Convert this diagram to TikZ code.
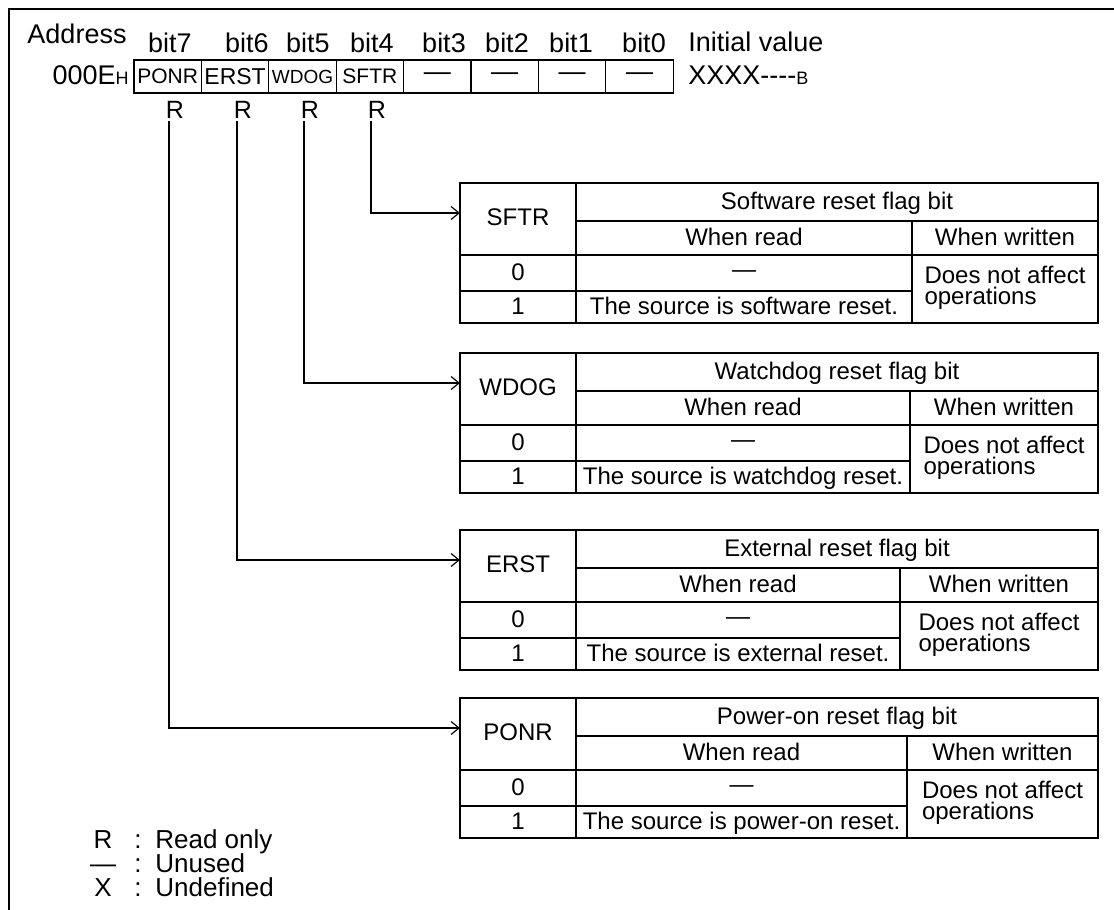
\documentclass[tikz,border=0pt]{standalone}
\usepackage{fontspec}
\setmainfont{Liberation Sans}
\usetikzlibrary{arrows.meta}

\begin{document}
\begin{tikzpicture}[x=0.5pt,y=-0.5pt,lbl/.style={inner sep=1pt,text height=0.7em,text depth=0.2em,font=\fontsize{12}{12}\selectfont},hdr/.style={lbl,font=\fontsize{13.5}{13.5}\selectfont},leg/.style={lbl,font=\fontsize{13}{13}\selectfont},rlbl/.style={inner sep=1pt,font=\fontsize{12.5}{12.5}\selectfont},note/.style={inner sep=1pt,align=left,font=\fontsize{12}{10.5}\selectfont},bitcell/.style={draw,line width=0.6pt,minimum width=33.7pt,minimum height=16.5pt,inner sep=0pt},tbl/.style={line width=0.65pt},arr/.style={-{Straight Barb[length=4pt,width=6.5pt]},line width=0.6pt},frame/.style={line width=1pt}]
\useasboundingbox (0,0) rectangle (1114,910);
\draw[frame] (1114,9) -- (9,9) -- (9,910);
\node[hdr] (addr) at (77,38) {Address};
\node[hdr,anchor=east] (addrval) at (131,79) {000E{\fontsize{9}{9}\selectfont H}};
\node[hdr,anchor=west] (init) at (686,46) {Initial value};
\node[hdr,anchor=west] (initval) at (686,79) {XXXX-{}-{}-{}-{\fontsize{9}{9}\selectfont B}};
\foreach \i/\x in {7/170,6/247,5/308,4/372,3/444,2/507,1/571,0/644}
  \node[hdr] (b\i) at (\x,47) {bit\i};
\foreach \i/\txt/\fs in {0/PONR/10.5,1/ERST/11.5,2/WDOG/9.5,3/SFTR/10.5,4/\textemdash/13.5,5/\textemdash/13.5,6/\textemdash/13.5,7/\textemdash/13.5}
  \node[bitcell,font=\fontsize{\fs}{\fs}\selectfont] (c\i) at (167.7+67.4*\i,76.5) {\txt};
\foreach \i/\x in {7/175,6/243,5/310,4/377}
  \node[rlbl] (r\i) at (\x,110) {R};
\foreach \id/\t/\w/\nm/\ttl/\src in {sftr/183/912/SFTR/Software reset flag bit/The source is software reset.,%
wdog/353/910/WDOG/Watchdog reset flag bit/The source is watchdog reset.,%
erst/530/900/ERST/External reset flag bit/The source is external reset.,%
ponr/698/907/PONR/Power-on reset flag bit/The source is power-on reset.}{
  \draw[tbl] (460,\t) rectangle (1098,\t+140);
  \draw[tbl] (576,\t) -- (576,\t+140) (576,\t+38) -- (1098,\t+38) (460,\t+72) -- (1098,\t+72) (460,\t+108) -- (\w,\t+108) (\w,\t+38) -- (\w,\t+140);
  \node[lbl] (\id-name) at (518,\t+37) {\nm};
  \node[lbl] (\id-title) at (837,\t+21) {\ttl};
  \node[lbl] (\id-rd) at ({(576+\w)/2},\t+57) {When read};
  \node[lbl] (\id-wr) at ({(\w+1098)/2},\t+57) {When written};
  \node[lbl] (\id-0) at (518,\t+92) {0};
  \node[lbl] (\id-u) at ({(576+\w)/2},\t+89) {\textemdash};
  \node[lbl] (\id-1) at (518,\t+126) {1};
  \node[lbl] (\id-src) at ({(576+\w)/2},\t+126) {\src};
  \node[note] (\id-na) at ({(\w+1098)/2},\t+105) {Does not affect\\operations};
  \coordinate (\id-in) at (460,\t+30);
}
\draw[arr] ([xshift=-3pt]r4.south) |- (sftr-in);
\draw[arr] ([xshift=-3pt]r5.south) |- (wdog-in);
\draw[arr] ([xshift=-3pt]r6.south) |- (erst-in);
\draw[arr] ([xshift=-3pt]r7.south) |- (ponr-in);
\node[leg] (kR) at (103,843) {R};
\node[leg] (kRc) at (138,843) {:};
\node[leg,anchor=west] (kRt) at (153,843) {Read only};
\node[leg] (kU) at (103,867) {\textemdash};
\node[leg] (kUc) at (138,867) {:};
\node[leg,anchor=west] (kUt) at (153,867) {Unused};
\node[leg] (kX) at (103,891) {X};
\node[leg] (kXc) at (138,891) {:};
\node[leg,anchor=west] (kXt) at (153,891) {Undefined};
\end{tikzpicture}
\end{document}
